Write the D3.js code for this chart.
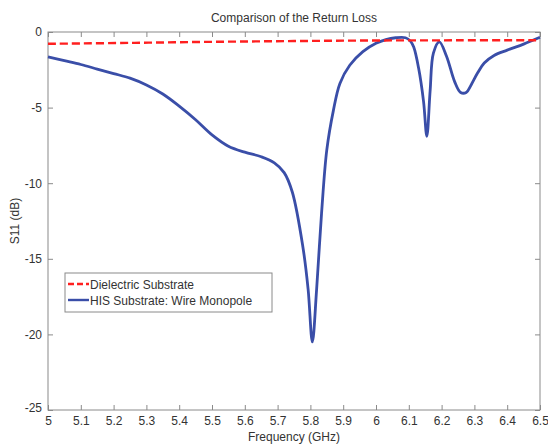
<!DOCTYPE html>
<html><head><meta charset="utf-8">
<script src="https://cdn.jsdelivr.net/npm/d3@7"></script>
<style>body{margin:0;background:#fff}svg{display:block}text{font-family:"Liberation Sans",Arial,sans-serif}</style>
</head><body><svg id="c" width="548" height="444"></svg>
<script>
const title = "Comparison of the Return Loss";
const xLabel = "Frequency (GHz)";
const yLabel = "S11 (dB)";
const seriesNames = ["Dielectric Substrate", "HIS Substrate: Wire Monopole"];
const xTicks = [5,5.1,5.2,5.3,5.4,5.5,5.6,5.7,5.8,5.9,6,6.1,6.2,6.3,6.4,6.5];
const yTicks = [0,-5,-10,-15,-20,-25];

const dielFreq = [5.0,5.25,5.5,5.75,6.0,6.25,6.5];
const dielS11  = [-0.78,-0.72,-0.65,-0.6,-0.56,-0.55,-0.55];

const hisFreq = [5.00,5.05,5.10,5.15,5.20,5.25,5.30,5.35,5.40,5.45,5.50,5.55,5.60,5.65,5.69,5.72,5.745,5.777,5.793,5.806,5.819,5.834,5.85,5.87,5.89,5.92,5.96,6.00,6.03,6.06,6.09,6.105,6.115,6.13,6.145,6.155,6.165,6.175,6.193,6.215,6.24,6.258,6.275,6.29,6.31,6.33,6.36,6.40,6.45,6.50];
const hisS11  = [-1.65,-1.9,-2.15,-2.45,-2.75,-3.05,-3.5,-4.1,-4.9,-5.8,-6.8,-7.55,-7.95,-8.25,-8.65,-9.3,-10.6,-14.2,-17.0,-20.5,-17.0,-12.0,-7.8,-5.2,-3.4,-2.2,-1.3,-0.75,-0.5,-0.38,-0.38,-0.6,-1.0,-2.4,-4.6,-6.9,-3.9,-1.4,-0.65,-1.6,-3.3,-4.0,-4.0,-3.5,-2.7,-2.05,-1.55,-1.2,-0.8,-0.35];

const m = {l:48, r:540, t:32, b:410};
const svg = d3.select("#c");
const x = d3.scaleLinear().domain([5,6.5]).range([m.l,m.r]);
const y = d3.scaleLinear().domain([-25,0]).range([m.b,m.t]);
const axisCol = "#8a8a8a", txtCol = "#333";
const fmt = d => String(d);

svg.append("rect").attr("x",m.l).attr("y",m.t).attr("width",m.r-m.l).attr("height",m.b-m.t)
  .attr("fill","none").attr("stroke",axisCol).attr("stroke-width",1);

const gB = svg.append("g").attr("transform",`translate(0,${m.b})`)
  .call(d3.axisBottom(x).tickValues(xTicks).tickSize(-5).tickPadding(6).tickFormat(fmt));
const gT = svg.append("g").attr("transform",`translate(0,${m.t})`)
  .call(d3.axisTop(x).tickValues(xTicks).tickSize(-5).tickFormat(""));
const gL = svg.append("g").attr("transform",`translate(${m.l},0)`)
  .call(d3.axisLeft(y).tickValues(yTicks).tickSize(-5).tickPadding(6).tickFormat(fmt));
const gR = svg.append("g").attr("transform",`translate(${m.r},0)`)
  .call(d3.axisRight(y).tickValues(yTicks).tickSize(-5).tickFormat(""));
[gB,gT,gL,gR].forEach(g=>{
  g.select(".domain").remove();
  g.selectAll(".tick line").attr("stroke",axisCol);
  g.selectAll("text").attr("fill",txtCol).style("font-size","12px");
});
gL.selectAll(".tick").filter(d=>d===-25).select("text").attr("dy","0.1em");

const line = d3.line().x(d=>x(d[0])).y(d=>y(d[1])).curve(d3.curveCatmullRom.alpha(0.5));
const plot = svg.append("g");
plot.append("path").datum(hisFreq.map((f,i)=>[f,hisS11[i]]))
  .attr("d",line).attr("fill","none").attr("stroke","#3a4ea8").attr("stroke-width",2.8).attr("stroke-linejoin","round");
plot.append("path").datum(dielFreq.map((f,i)=>[f,dielS11[i]]))
  .attr("d",line).attr("fill","none").attr("stroke","#ff1f1f").attr("stroke-width",2.4).attr("stroke-dasharray","8,4");

svg.append("text").attr("x",(m.l+m.r)/2).attr("y",22).attr("text-anchor","middle")
  .attr("fill",txtCol).style("font-size","12px").text(title);
svg.append("text").attr("x",(m.l+m.r)/2).attr("y",441).attr("text-anchor","middle")
  .attr("fill",txtCol).style("font-size","12px").text(xLabel);
svg.append("text").attr("transform",`translate(19,${(m.t+m.b)/2}) rotate(-90)`).attr("text-anchor","middle")
  .attr("fill",txtCol).style("font-size","12px").text(yLabel);

const lg = svg.append("g");
lg.append("rect").attr("x",65).attr("y",273).attr("width",207).attr("height",39)
  .attr("fill","#fff").attr("stroke",axisCol);
const cols = ["#ff1f1f","#3a4ea8"], dashes = ["6,3",null];
seriesNames.forEach((n,i)=>{
  const yy = 284 + i*16;
  lg.append("line").attr("x1",68).attr("x2",89).attr("y1",yy).attr("y2",yy)
    .attr("stroke",cols[i]).attr("stroke-width",2.4).attr("stroke-dasharray",dashes[i]);
  lg.append("text").attr("x",90).attr("y",yy+4.5).attr("fill",txtCol).style("font-size","12px").text(n);
});
</script></body></html>
